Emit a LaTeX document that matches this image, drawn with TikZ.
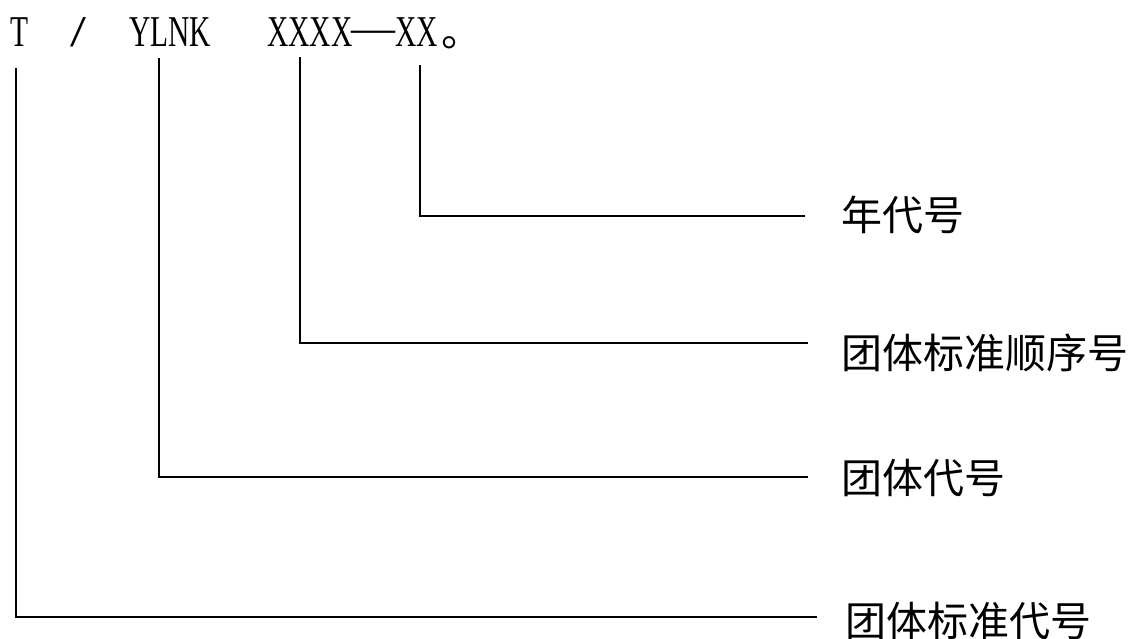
\documentclass[tikz,border=0pt]{standalone}
\usepackage{fontspec}
\setmainfont{Liberation Serif}
\newfontfamily\cjk{Noto Sans CJK SC}
\tikzset{
  lat/.style={anchor=base west, inner sep=0pt, font=\fontsize{44}{44}\selectfont},
  lab/.style={anchor=base west, inner sep=0pt, font=\cjk\fontsize{41}{41}\selectfont},
  conn/.style={line width=1.6pt, line join=miter}
}
\newcommand{\nar}[1]{\scalebox{0.67}[1]{#1}}
\begin{document}
\begin{tikzpicture}[x=1pt,y=-1pt]
\useasboundingbox (0,0) rectangle (1135,639);
% code line
\node[lat] (t) at (10,47) {\nar{T}};
\node[lat] (sl) at (70,47) {\scalebox{1.3}[1]{/}};
\node[lat] (ylnk) at (129,47) {\nar{YLNK}};
\node[lat] (xxxx) at (267,47) {\nar{XXXX}};
\node[lat] (dash) at (351,47) {\raisebox{4pt}{—}};
\node[lat] (xx) at (395,47) {\nar{XX}};
\node[lab] (stop) at (441,47) {。};
% labels
\node[lab] (l1) at (841,231) {年代号};
\node[lab] (l2) at (841,368) {团体标准顺序号};
\node[lab] (l3) at (841,493) {团体代号};
\node[lab] (l4) at (845,636) {团体标准代号};
% connector ends
\coordinate (s1) at (420,65);
\coordinate (s2) at (300,57);
\coordinate (s3) at (159,58);
\coordinate (s4) at (16,68);
\coordinate (e1) at (805,216);
\coordinate (e2) at (808,343);
\coordinate (e3) at (808,477);
\coordinate (e4) at (817,617);
\draw[conn] (s1) |- (e1);
\draw[conn] (s2) |- (e2);
\draw[conn] (s3) |- (e3);
\draw[conn] (s4) |- (e4);
\end{tikzpicture}
\end{document}
